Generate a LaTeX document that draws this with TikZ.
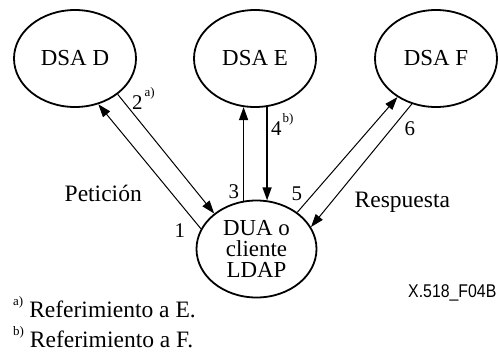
\documentclass[tikz,border=0pt]{standalone}
\usepackage{fontspec}
\setmainfont{Liberation Serif}
\newfontfamily\narrowsans[FakeStretch=0.86]{Liberation Sans}
\usetikzlibrary{arrows.meta,shapes.geometric}
\newcommand{\mysup}[2][13bp]{\raisebox{#1}{\fontsize{13}{13}\selectfont #2}}
\begin{document}
\begin{tikzpicture}[x=1bp,y=-1bp,
  ent/.style={draw, ellipse, line width=1.8bp, inner sep=0pt,
    minimum width=122bp, minimum height=97bp,
    font=\fontsize{23}{21.5}\selectfont, align=center},
  lab/.style={anchor=base west, inner sep=0pt, font=\fontsize{21}{21}\selectfont},
  txt/.style={anchor=base west, inner sep=0pt, font=\fontsize{23.6}{23.6}\selectfont},
  thinarr/.style={line width=1bp, -{Triangle[length=13bp,width=9bp]}},
  thickarr/.style={line width=1.4bp, -{Triangle[length=13bp,width=9bp]}}]
\useasboundingbox (0,0) rectangle (499,354);
\node[ent] (d) at (75,58.5) {DSA D};
\node[ent] (e) at (255,58.5) {DSA E};
\node[ent] (f) at (436,58.5) {DSA F};
\node[ent, minimum width=120bp] (dua) at (256.5,249) {DUA o\\cliente\\LDAP};
% connectors
\draw[thinarr] (dua.160) -- (d.-63);
\draw[thinarr] (d.-40) -- (dua.140);
\draw[thickarr] (dua.105) -- (dua.105 |- e.-103);
\draw[thickarr] (e.-76) -- (e.-76 |- dua.78);
\draw[thinarr] (dua.42) -- (f.-135);
\draw[thinarr] (f.-118) -- (dua.22);
% labels
\node[lab] (l2) at (132,109) {2\hspace{2bp}\mysup{a)}};
\node[lab] (l4) at (271,135) {4\hspace{1bp}\mysup{b)}};
\node[lab] (l3) at (228.5,198) {3};
\node[lab] (l5) at (291.5,200) {5};
\node[lab] (l6) at (404.5,135) {6};
\node[lab] (l1) at (174.5,237) {1};
\node[txt] (pet) at (64.5,201) {Petición};
\node[txt] (resp) at (354.5,207) {Respuesta};
\node[anchor=base west, inner sep=0pt, font=\narrowsans\fontsize{18.5}{18.5}\selectfont] (fig) at (408,297) {X.518\_F04B};
\node[txt] (fa) at (13,317) {\mysup[12bp]{a)}\hspace{6bp}Referimiento a E.};
\node[txt] (fb) at (13,347) {\mysup[12bp]{b)}\hspace{6bp}Referimiento a F.};
\end{tikzpicture}
\end{document}
